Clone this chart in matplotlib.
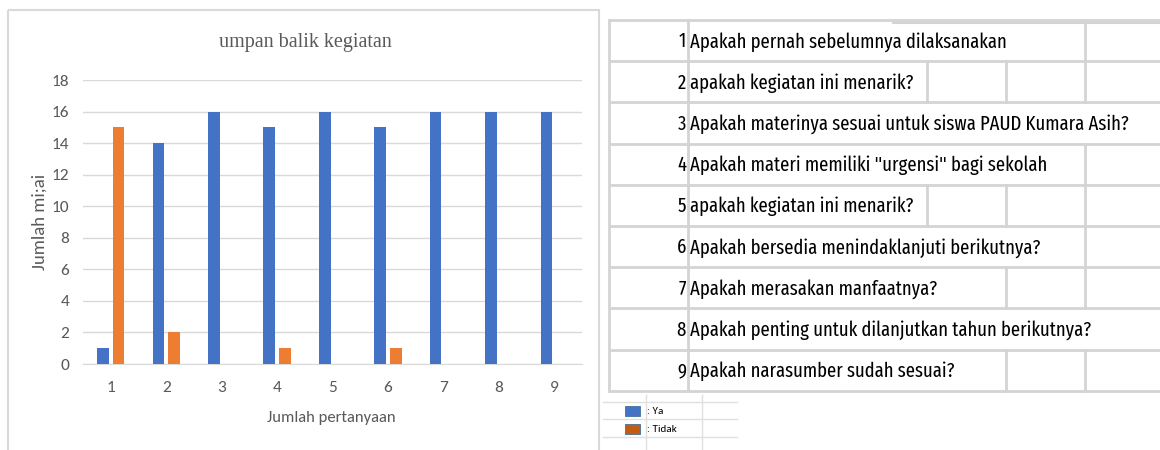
import matplotlib
matplotlib.use("Agg")
import matplotlib.pyplot as plt
from matplotlib.patches import Rectangle
import numpy as np

# --- data ---
categories = [1, 2, 3, 4, 5, 6, 7, 8, 9]
ya = [1, 14, 16, 15, 16, 15, 16, 16, 16]
tidak = [15, 2, 0, 1, 0, 1, 0, 0, 0]
questions = [
    "Apakah pernah sebelumnya dilaksanakan",
    "apakah kegiatan ini menarik?",
    "Apakah materinya sesuai untuk siswa PAUD Kumara Asih?",
    'Apakah materi memiliki "urgensi" bagi sekolah',
    "apakah kegiatan ini menarik?",
    "Apakah bersedia menindaklanjuti berikutnya?",
    "Apakah merasakan manfaatnya?",
    "Apakah penting untuk dilanjutkan tahun berikutnya?",
    "Apakah narasumber sudah sesuai?",
]
legend_labels = [": Ya", ": Tidak"]

SANS = ["Carlito", "Archivo Narrow", "DejaVu Sans"]
COND = ["Fira Sans Extra Condensed", "Asap Condensed", "Archivo Narrow", "Carlito", "DejaVu Sans"]
BLUE = "#4472C4"
ORANGE = "#ED7D31"
GRAY_TXT = "#595959"
GRID = "#d9d9d9"

W, H = 1160, 450
fig = plt.figure(figsize=(W / 100, H / 100), dpi=100)

# background axes in pixel coords (y down)
bg = fig.add_axes([0, 0, 1, 1])
bg.set_xlim(0, W)
bg.set_ylim(H, 0)
bg.axis("off")

# chart panel border
bg.add_patch(Rectangle((8, 10), 591, 445, fill=False, edgecolor="#d9d9d9", lw=1.5))

# --- bar chart ---
ax = fig.add_axes([83 / W, (H - 364) / H, 499 / W, 284 / H])
x = np.array(categories)
bw = 0.21
ax.bar(x - 0.14, ya, width=bw, color=BLUE, zorder=3)
ax.bar(x + 0.14, tidak, width=bw, color=ORANGE, zorder=3)
ax.set_xlim(0.5, 9.5)
ax.set_ylim(0, 18)
ax.set_yticks(range(0, 19, 2))
ax.set_xticks(categories)
ax.grid(axis="y", color=GRID, lw=1, zorder=0)
for s in ax.spines.values():
    s.set_visible(False)
ax.spines["bottom"].set_visible(True)
ax.spines["bottom"].set_color(GRID)
ax.tick_params(length=0, colors=GRAY_TXT, labelsize=12.5, pad=12)
ax.tick_params(axis="y", pad=10)
for lab in ax.get_xticklabels() + ax.get_yticklabels():
    lab.set_family(SANS)
ax.set_facecolor("none")

bg.text(305, 42, "umpan balik kegiatan", family=["Liberation Serif", "DejaVu Serif"],
        fontsize=14.5, color=GRAY_TXT, ha="center", va="center")
bg.text(40, 222, "Jumlah mi;ai", family=SANS, fontsize=13.5, color=GRAY_TXT,
        rotation=90, ha="center", va="center")
bg.text(331, 418, "Jumlah pertanyaan", family=SANS, fontsize=12, color=GRAY_TXT,
        ha="center", va="center")

# --- question table ---
TL = "#d4d4d4"
top, rh = 20, 41.2
col_x = [609, 688, 927, 1006, 1085]
n = len(questions)
bottom = top + rh * n
for i in range(n + 1):
    bg.plot([609, W], [top + rh * i] * 2, color=TL, lw=2, solid_capstyle="butt")
bg.plot([893, W], [top + 3, top + 3], color=TL, lw=1.5)
bg.plot([609, 609], [top, bottom], color=TL, lw=2)
bg.plot([688, 688], [top, bottom], color=TL, lw=2)

nums, texts = [], []
for i, q in enumerate(questions):
    yc = top + rh * (i + 0.5) + 1
    nums.append(bg.text(686, yc, str(categories[i]), family=COND, fontsize=20,
                        ha="right", va="center", color="black"))
    texts.append(bg.text(690, yc, q, family=COND, fontsize=20, ha="left",
                         va="center", color="black"))

# fit font size so the longest row ends where it does in the sheet (~1130 px)
fig.canvas.draw()
r = fig.canvas.get_renderer()
inv = bg.transData.inverted()
bb = texts[2].get_window_extent(r)
wpx = inv.transform((bb.x1, 0))[0] - inv.transform((bb.x0, 0))[0]
fs = 20 * 440 / wpx
for t in nums + texts:
    t.set_fontsize(fs)

fig.canvas.draw()
for i, t in enumerate(texts):
    bb = t.get_window_extent(r)
    xend = inv.transform((bb.x1, bb.y1))[0]
    y0, y1 = top + rh * i, top + rh * (i + 1)
    for cx in col_x[2:]:
        if xend < cx:
            bg.plot([cx, cx], [y0, y1], color=TL, lw=2)

# --- small legend ---
LL = "#e0e0e0"
for yy in [402, 419, 437]:
    bg.plot([603, 737], [yy, yy], color=LL, lw=1)
for xx in [646, 702]:
    bg.plot([xx, xx], [395, H], color=LL, lw=1)
leg_colors = [BLUE, "#C55A11"]
for i, (lab, c) in enumerate(zip(legend_labels, leg_colors)):
    yy = 411 + 18 * i
    bg.add_patch(Rectangle((625, yy - 5), 15, 10, facecolor=c, edgecolor="#41719c", lw=0.6))
    bg.text(647, yy, lab, family=SANS, fontsize=8, ha="left", va="center")

fig.savefig("out.png", dpi=100)
